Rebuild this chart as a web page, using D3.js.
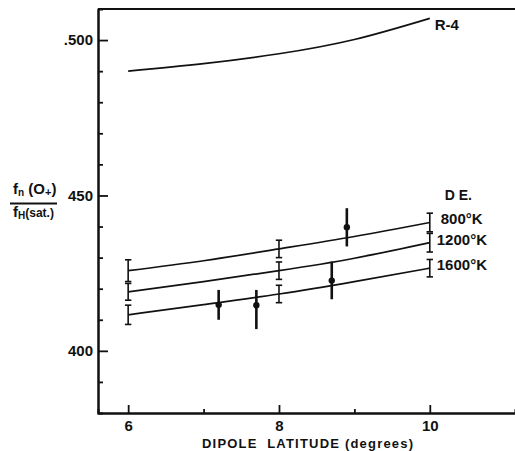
<!DOCTYPE html>
<html>
<head>
<meta charset="utf-8">
<script src="https://cdn.jsdelivr.net/npm/d3@7"></script>
<style>
  body { margin: 0; background: #fff; }
  svg { display: block; }
  text { font-family: "Liberation Sans", Arial, sans-serif; font-weight: bold; fill: #111; }
</style>
</head>
<body>
<svg id="chart" width="515" height="451"></svg>
<script>
// latitude grid the model curves are read at
const latitudes = [6, 7, 8, 9, 10];
const r4 = [490, 492.4, 495.6, 500.2, 507];
const de800 = [425.8, 429.0, 432.8, 436.8, 441.3];
const de1200 = [419.0, 422.3, 425.8, 429.8, 434.8];
const de1600 = [411.6, 414.9, 418.3, 422.3, 426.6];
const seriesNames = ['800°K', '1200°K', '1600°K'];

// model error bars at 6, 8, 10 deg
const errLat = [6, 8, 10];
const err800 = [3.5, 2.8, 3.0];
const err1200 = [2.7, 2.8, 3.0];
const err1600 = [3.1, 2.8, 2.8];

// measured points
const obsLat = [7.2, 7.7, 8.7, 8.9];
const obsVal = [414.8, 414.7, 422.6, 439.8];
const obsLo = [410.0, 407.0, 416.6, 433.6];
const obsHi = [419.6, 419.6, 428.7, 445.9];

const yMajor = [400, 450, 500];
const yMajorLabels = ['400', '450', '.500'];
const yMinor = [390, 410, 420, 430, 440, 460, 470, 480, 490];
const xMajor = [6, 8, 10];
const xMajorLabels = ['6', '8', '10'];
const xMinor = [7, 9];

const svg = d3.select('#chart');
const x = d3.scaleLinear().domain([5.6, 11.13]).range([98, 515]);
const y = d3.scaleLinear().domain([380, 510]).range([413, 9]);

// frame: top border
svg.append('line')
  .attr('x1', x(5.6)).attr('x2', x(11.13))
  .attr('y1', y(510)).attr('y2', y(510))
  .attr('stroke', '#111').attr('stroke-width', 2);

svg.append('g')
  .attr('transform', `translate(${x(5.6)},0)`)
  .call(d3.axisLeft(y).tickValues(yMinor).tickSize(-5).tickFormat(''));
svg.append('g')
  .attr('transform', `translate(${x(5.6)},0)`)
  .call(d3.axisLeft(y).tickValues(yMajor).tickSizeInner(-10).tickSizeOuter(0).tickPadding(5)
    .tickFormat((d, i) => yMajorLabels[i]));

svg.append('g')
  .attr('transform', `translate(0,${y(380)})`)
  .call(d3.axisBottom(x).tickValues(xMinor).tickSize(-4).tickFormat(''));
svg.append('g')
  .attr('transform', `translate(0,${y(380)})`)
  .call(d3.axisBottom(x).tickValues(xMajor).tickSizeInner(-8).tickSizeOuter(0).tickPadding(7)
    .tickFormat((d, i) => xMajorLabels[i]));

svg.selectAll('.domain').attr('stroke', '#111').attr('stroke-width', 2);
svg.selectAll('.tick line').attr('stroke', '#111').attr('stroke-width', 1.8);
svg.selectAll('.tick text')
  .attr('font-size', 15).attr('fill', '#111')
  .attr('font-family', '"Liberation Sans", Arial, sans-serif').attr('font-weight', 'bold');

// model curves
const line = d3.line()
  .x((d, i) => x(latitudes[i]))
  .y(d => y(d))
  .curve(d3.curveNatural);

const curves = [r4, de800, de1200, de1600];
svg.append('g')
  .selectAll('path')
  .data(curves)
  .join('path')
  .attr('d', d => line(d))
  .attr('fill', 'none')
  .attr('stroke', '#111')
  .attr('stroke-width', 1.7);

// error bars on model curves
const deCurves = [de800, de1200, de1600];
const deErrs = [err800, err1200, err1600];
const capW = 3.2;
deCurves.forEach((c, k) => {
  errLat.forEach((lat, j) => {
    const v = c[latitudes.indexOf(lat)];
    const e = deErrs[k][j];
    const g = svg.append('g').attr('stroke', '#111').attr('stroke-width', 1.6);
    g.append('line').attr('x1', x(lat)).attr('x2', x(lat)).attr('y1', y(v - e)).attr('y2', y(v + e));
    g.append('line').attr('x1', x(lat) - capW).attr('x2', x(lat) + capW).attr('y1', y(v - e)).attr('y2', y(v - e));
    g.append('line').attr('x1', x(lat) - capW).attr('x2', x(lat) + capW).attr('y1', y(v + e)).attr('y2', y(v + e));
  });
});

// measured points
const obs = svg.append('g');
obs.selectAll('line')
  .data(obsLat)
  .join('line')
  .attr('x1', d => x(d)).attr('x2', d => x(d))
  .attr('y1', (d, i) => y(obsLo[i])).attr('y2', (d, i) => y(obsHi[i]))
  .attr('stroke', '#111').attr('stroke-width', 2.6);
obs.selectAll('circle')
  .data(obsLat)
  .join('circle')
  .attr('cx', d => x(d)).attr('cy', (d, i) => y(obsVal[i]))
  .attr('r', 3.2)
  .attr('fill', '#111');

// labels
svg.append('text').attr('x', x(10) + 5).attr('y', y(r4[4]) + 12)
  .attr('font-size', 15).text('R-4');
svg.append('text').attr('x', x(10) + 15).attr('y', 200)
  .attr('font-size', 14).text('D E.');
const endX = [x(10) + 11, x(10) + 7, x(10) + 7];
svg.append('g').selectAll('text')
  .data(seriesNames)
  .join('text')
  .attr('x', (d, i) => endX[i])
  .attr('y', (d, i) => y(deCurves[i][4]) + 2)
  .attr('font-size', 15)
  .text(d => d);

// y label as fraction
const yl = svg.append('g');
yl.append('text').attr('x', 13).attr('y', 194).attr('font-size', 15)
  .html('f<tspan font-size="10" dy="2">n</tspan><tspan dy="-2"> (O</tspan><tspan font-size="11" dy="2">+</tspan><tspan dy="-2">)</tspan>');
yl.append('line').attr('x1', 10).attr('x2', 57).attr('y1', 203.5).attr('y2', 203.5)
  .attr('stroke', '#111').attr('stroke-width', 1.8);
yl.append('text').attr('x', 13).attr('y', 217).attr('font-size', 15)
  .html('f<tspan font-size="10" dy="2">H</tspan><tspan dy="-2" font-size="12">(sat.)</tspan>');

// x label
svg.append('text')
  .attr('x', 202).attr('y', 448)
  .attr('font-size', 13)
  .attr('letter-spacing', 1.2)
  .style('white-space', 'pre')
  .text('DIPOLE  LATITUDE (degrees)');
</script>
</body>
</html>
